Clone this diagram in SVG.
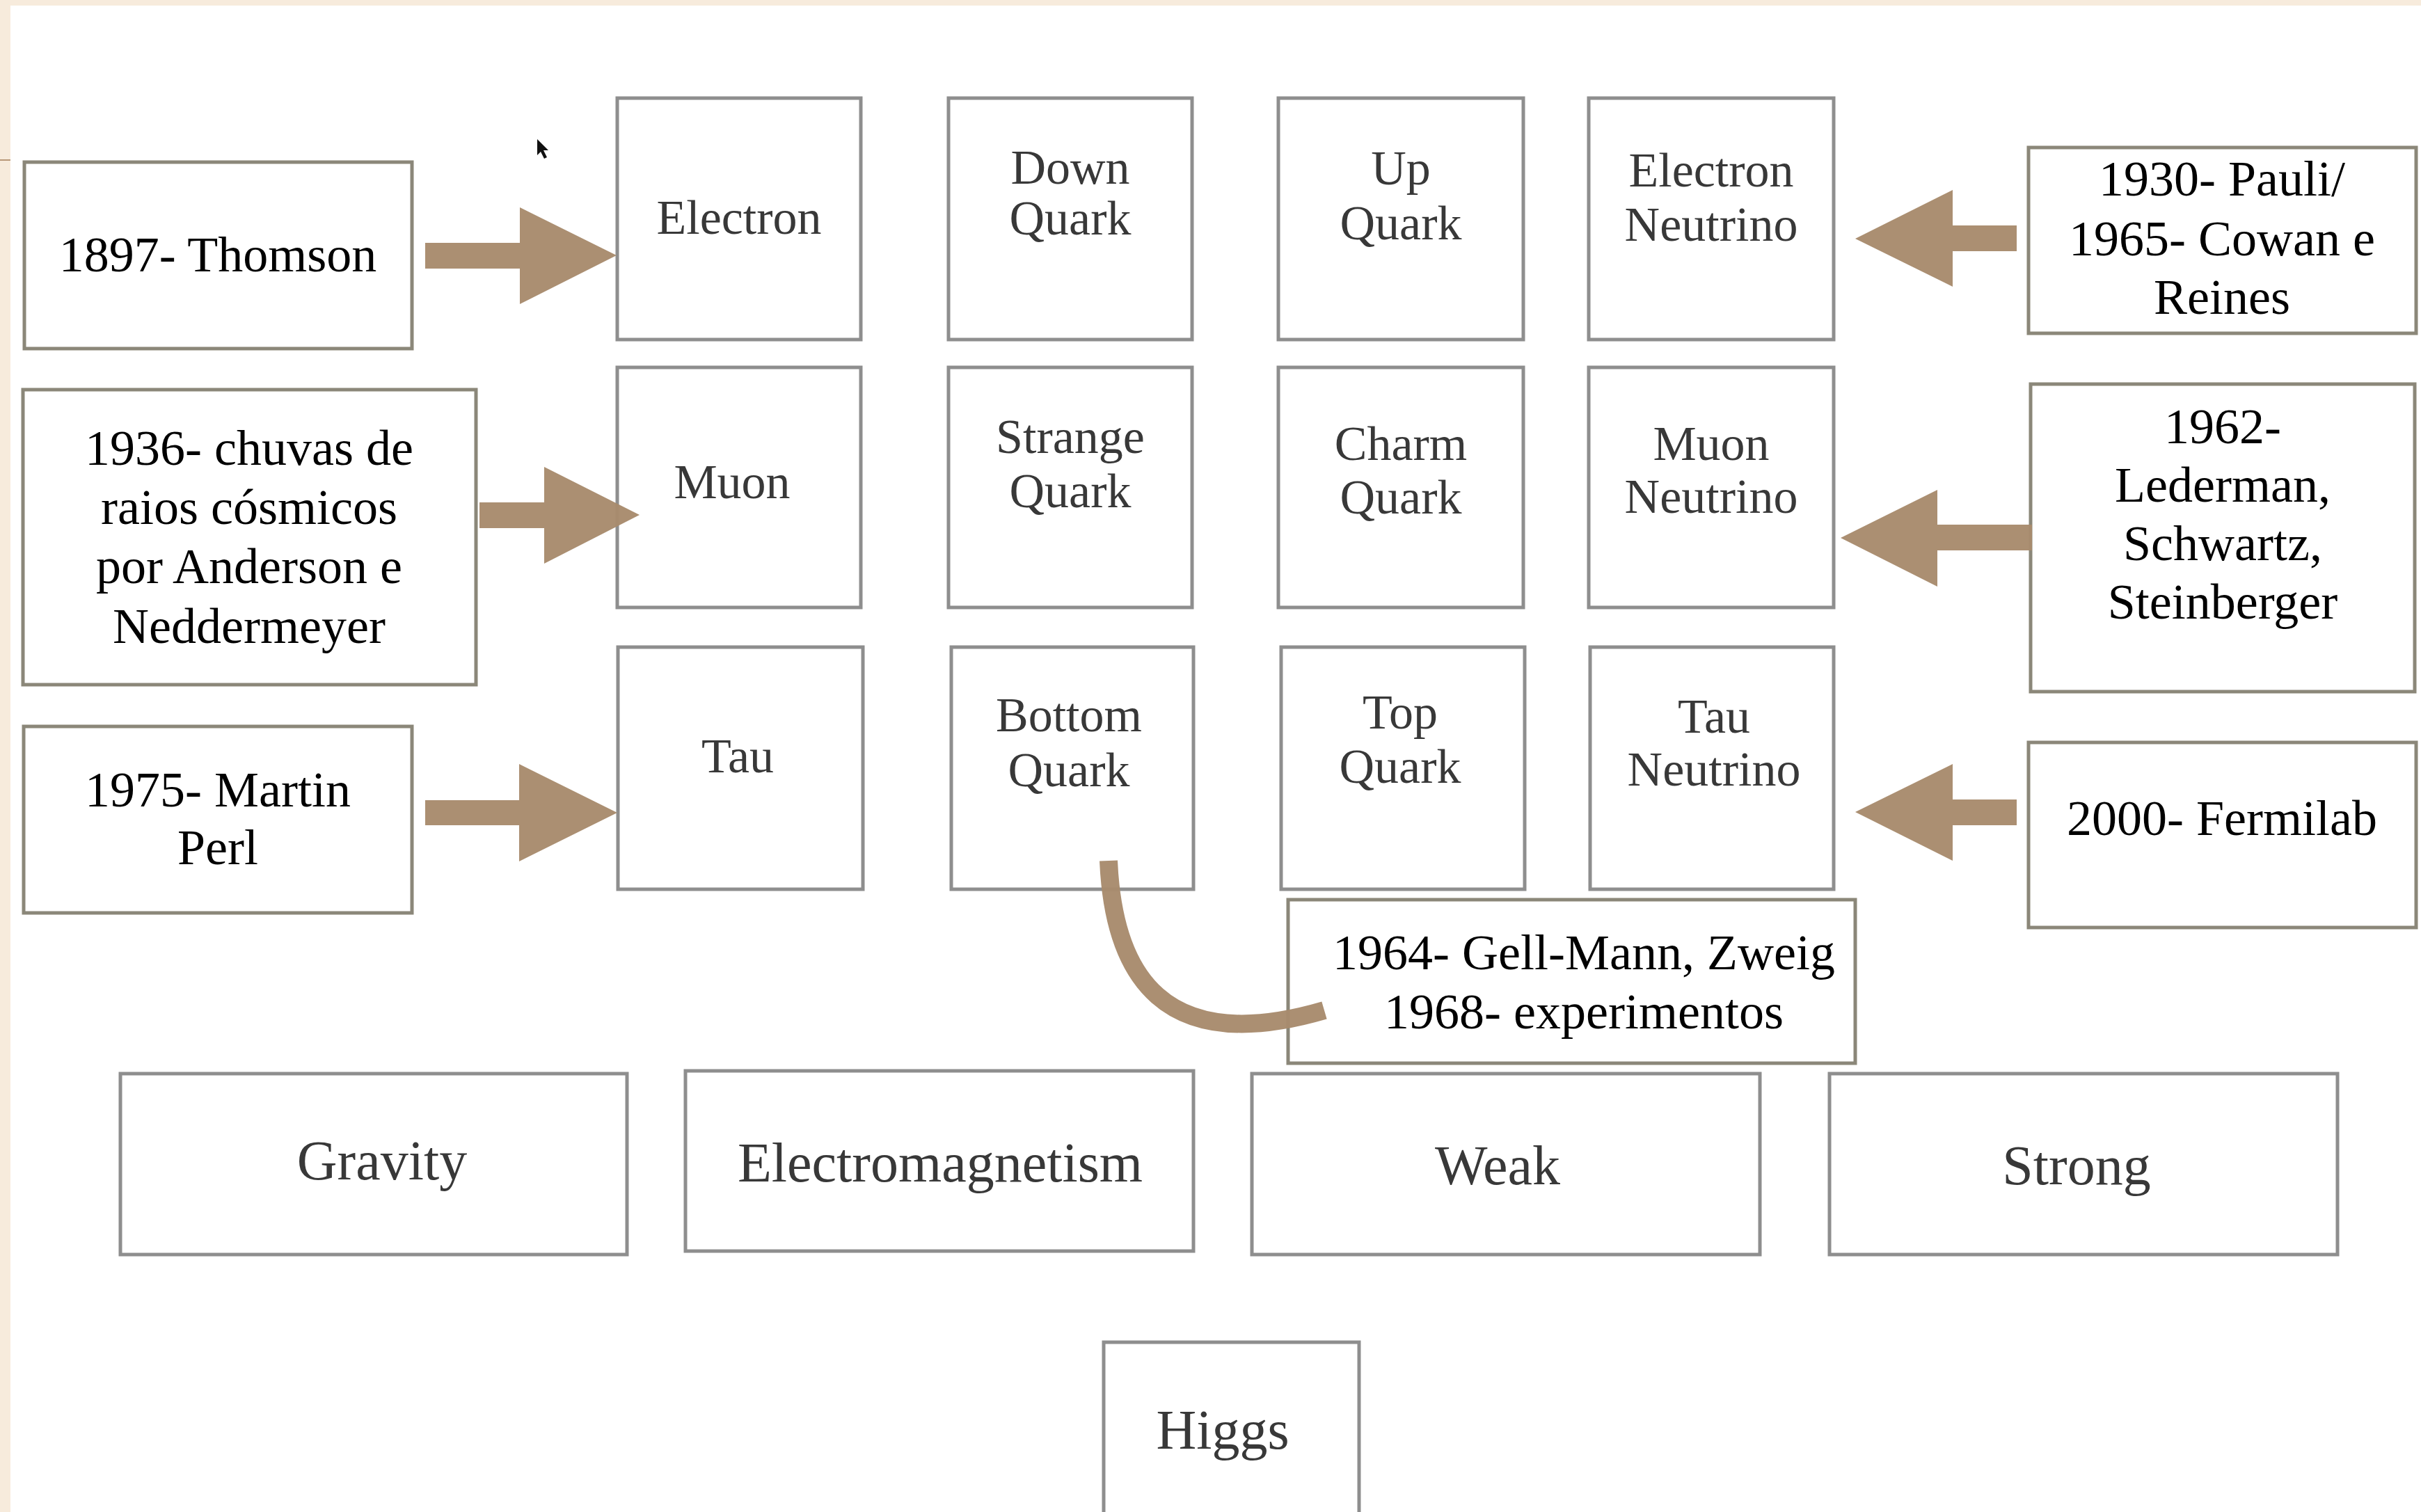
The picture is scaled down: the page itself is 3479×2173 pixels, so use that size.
<svg xmlns="http://www.w3.org/2000/svg" width="3479" height="2173" viewBox="0 0 3479 2173">
<style>
.bg{fill:#ffffff}
.strip{fill:#f7ebdc}
.p{fill:#ffffff;stroke:#8e8e8e;stroke-width:5}
.a{fill:#ffffff;stroke:#8b8779;stroke-width:5}
.pt{font-family:"Liberation Serif","DejaVu Serif",serif;font-size:70px;fill:#383838;text-anchor:middle}
.ft{font-family:"Liberation Serif","DejaVu Serif",serif;font-size:80px;fill:#383838;text-anchor:middle}
.at{font-family:"Liberation Serif","DejaVu Serif",serif;font-size:72px;fill:#000000;text-anchor:middle}
.arr{fill:#a88b6d}
.curve{fill:none;stroke:#a88b6d;stroke-width:26;stroke-linecap:butt}
</style>
<rect class="bg" x="0" y="0" width="3479" height="2173"/>
<rect class="strip" x="0" y="0" width="3479" height="8"/>
<rect class="strip" x="0" y="0" width="15" height="2173"/>
<line x1="0" y1="230" x2="15" y2="230" stroke="#b89878" stroke-width="2"/>
<polygon points="772,200 772,223 777,218 782,228 786,226 781,216 788,216" fill="#111111"/>

<g id="electron"><rect class="p" x="887" y="141" width="350" height="347"/><text class="pt" x="1062" y="336">Electron</text></g>
<g id="down-quark"><rect class="p" x="1363" y="141" width="350" height="347"/><text class="pt" x="1538" y="264">Down</text><text class="pt" x="1538" y="337">Quark</text></g>
<g id="up-quark"><rect class="p" x="1837" y="141" width="352" height="347"/><text class="pt" x="2013" y="265">Up</text><text class="pt" x="2013" y="344">Quark</text></g>
<g id="electron-neutrino"><rect class="p" x="2283" y="141" width="352" height="347"/><text class="pt" x="2459" y="268">Electron</text><text class="pt" x="2459" y="346">Neutrino</text></g>

<g id="muon"><rect class="p" x="887" y="528" width="350" height="345"/><text class="pt" x="1052" y="716">Muon</text></g>
<g id="strange-quark"><rect class="p" x="1363" y="528" width="350" height="345"/><text class="pt" x="1538" y="651">Strange</text><text class="pt" x="1538" y="729">Quark</text></g>
<g id="charm-quark"><rect class="p" x="1837" y="528" width="352" height="345"/><text class="pt" x="2013" y="661">Charm</text><text class="pt" x="2013" y="738">Quark</text></g>
<g id="muon-neutrino"><rect class="p" x="2283" y="528" width="352" height="345"/><text class="pt" x="2459" y="661">Muon</text><text class="pt" x="2459" y="737">Neutrino</text></g>

<g id="tau"><rect class="p" x="888" y="930" width="352" height="348"/><text class="pt" x="1060" y="1110">Tau</text></g>
<g id="bottom-quark"><rect class="p" x="1367" y="930" width="348" height="348"/><text class="pt" x="1536" y="1051">Bottom</text><text class="pt" x="1536" y="1130">Quark</text></g>
<g id="top-quark"><rect class="p" x="1841" y="930" width="350" height="348"/><text class="pt" x="2012" y="1047">Top</text><text class="pt" x="2012" y="1125">Quark</text></g>
<g id="tau-neutrino"><rect class="p" x="2285" y="930" width="350" height="348"/><text class="pt" x="2463" y="1053">Tau</text><text class="pt" x="2463" y="1129">Neutrino</text></g>

<g id="gravity"><rect class="p" x="173" y="1543" width="728" height="260"/><text class="ft" x="549" y="1695">Gravity</text></g>
<g id="electromagnetism"><rect class="p" x="985" y="1539" width="730" height="259"/><text class="ft" x="1351" y="1698">Electromagnetism</text></g>
<g id="weak"><rect class="p" x="1799" y="1543" width="730" height="260"/><text class="ft" x="2152" y="1702">Weak</text></g>
<g id="strong"><rect class="p" x="2629" y="1543" width="730" height="260"/><text class="ft" x="2984" y="1702">Strong</text></g>
<g id="higgs"><rect class="p" x="1586" y="1929" width="367" height="260"/><text class="ft" x="1757" y="2082">Higgs</text></g>

<g id="thomson"><rect class="a" x="35" y="233" width="557" height="268"/><text class="at" x="313" y="390">1897- Thomson</text></g>
<g id="anderson"><rect class="a" x="33" y="560" width="651" height="424"/><text class="at" x="358" y="668">1936- chuvas de</text><text class="at" x="358" y="753">raios cósmicos</text><text class="at" x="358" y="838">por Anderson e</text><text class="at" x="358" y="924">Neddermeyer</text></g>
<g id="perl"><rect class="a" x="34" y="1044" width="558" height="268"/><text class="at" x="313" y="1159">1975- Martin</text><text class="at" x="313" y="1242">Perl</text></g>
<g id="pauli"><rect class="a" x="2915" y="212" width="557" height="267"/><text class="at" x="3193" y="281">1930- Pauli/</text><text class="at" x="3193" y="367">1965- Cowan e</text><text class="at" x="3193" y="451">Reines</text></g>
<g id="lederman"><rect class="a" x="2918" y="552" width="552" height="442"/><text class="at" x="3194" y="637">1962-</text><text class="at" x="3194" y="721">Lederman,</text><text class="at" x="3194" y="805">Schwartz,</text><text class="at" x="3194" y="889">Steinberger</text></g>
<g id="fermilab"><rect class="a" x="2915" y="1067" width="557" height="266"/><text class="at" x="3193" y="1200">2000- Fermilab</text></g>
<g id="gellmann"><rect class="a" x="1851" y="1293" width="815" height="235"/><text class="at" x="2276" y="1393">1964- Gell-Mann, Zweig</text><text class="at" x="2276" y="1478">1968- experimentos</text></g>

<g id="connectors" opacity="0.97">
<polygon class="arr" points="611,349 747,349 747,298 886,367 747,437 747,386 611,386"/>
<polygon class="arr" points="689,722 782,722 782,671 919,740 782,810 782,759 689,759"/>
<polygon class="arr" points="611,1150 746,1150 746,1098 887,1168 746,1238 746,1186 611,1186"/>
<polygon class="arr" points="2898,324 2806,324 2806,273 2666,343 2806,412 2806,361 2898,361"/>
<polygon class="arr" points="2920,754 2784,754 2784,704 2645,773 2784,843 2784,791 2920,791"/>
<polygon class="arr" points="2898,1149 2806,1149 2806,1098 2666,1167 2806,1237 2806,1186 2898,1186"/>
<path class="curve" d="M1593,1237 C1600,1400 1670,1520 1903,1452"/>
</g>
</svg>
